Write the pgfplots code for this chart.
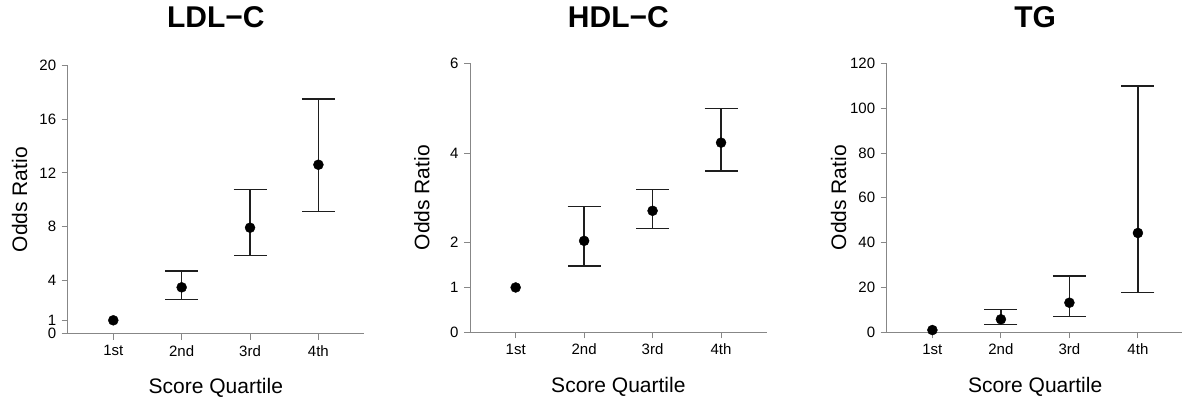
\documentclass[border=0pt]{standalone}
\usepackage{fontspec}
\setmainfont{Liberation Sans}
\usepackage{pgfplots}
\pgfplotsset{compat=1.18}
\definecolor{axgray}{RGB}{135,135,135}
\definecolor{errc}{RGB}{30,30,30}
\pgfplotsset{
  orstyle/.style={
    scale only axis,
    axis x line*=bottom, axis y line*=left,
    axis line style={draw=axgray, line width=0.9pt},
    tick style={draw=axgray, line width=0.9pt},
    tick align=outside, major tick length=6pt,
    xmin=0.333, xmax=4.667, ymin=0,
    xtick={1,2,3,4}, xticklabels={1st,2nd,3rd,4th},
    tick label style={font=\fontsize{15}{18}\selectfont, text=black},
    xticklabel style={font=\fontsize{15}{18}\selectfont, yshift=-2pt},
    yticklabel style={font=\fontsize{15}{18}\selectfont, xshift=-2pt},
    /pgf/number format/assume math mode=true,
    xlabel={Score Quartile}, ylabel={Odds Ratio},
    every axis x label/.style={at={(axis description cs:0.5,-0.222)}, anchor=base, font=\fontsize{21}{24}\selectfont},
    every axis y label/.style={at={(axis description cs:-0.1366,0.5)}, anchor=base, rotate=90, font=\fontsize{21}{24}\selectfont},
    title style={font=\bfseries\fontsize{30}{32}\selectfont, anchor=center},
    clip=false,
  },
  cistyle/.style={only marks, mark=*, mark size=5pt, black,
    error bars/.cd, y dir=both, y explicit,
    error bar style={line width=1.4pt, color=errc},
    error mark options={rotate=90, mark size=16.5pt, line width=1.4pt, color=errc}},
  refstyle/.style={only marks, mark=*, mark size=5pt, black},
}
\begin{document}
\begin{tikzpicture}
\useasboundingbox (0,0) rectangle (1182pt,404pt);
% LDL-C
\begin{axis}[orstyle, at={(67.7pt,70.3pt)}, anchor=south west,
  width=296.3pt, height=268pt, ymax=20, ytick={0,1,4,8,12,16,20},
  title={LDL−C}, title style={at={(axis description cs:0.5,1.16)}}]
\addplot[refstyle] coordinates {(1,1)};
\addplot[cistyle] coordinates {
  (2,3.46) += (0,1.22) -= (0,0.89)
  (3,7.91) += (0,2.84) -= (0,2.09)
  (4,12.61) += (0,4.90) -= (0,3.51)
};
\end{axis}
% HDL-C
\begin{axis}[orstyle, at={(470pt,71.7pt)}, anchor=south west,
  width=296.7pt, height=269pt, ymax=6, ytick={0,1,2,4,6},
  title={HDL−C}, title style={at={(axis description cs:0.5,1.151)}}]
\addplot[refstyle] coordinates {(1,1)};
\addplot[cistyle] coordinates {
  (2,2.04) += (0,0.76) -= (0,0.56)
  (3,2.71) += (0,0.47) -= (0,0.40)
  (4,4.23) += (0,0.76) -= (0,0.63)
};
\end{axis}
% TG
\begin{axis}[orstyle, at={(886.7pt,71.7pt)}, anchor=south west,
  width=296.9pt, height=269pt, ymax=120, ytick={0,20,40,60,80,100,120},
  title={TG}, title style={at={(axis description cs:0.5,1.151)}}]
\addplot[refstyle] coordinates {(1,1)};
\addplot[cistyle] coordinates {
  (2,5.8) += (0,4.3) -= (0,2.2)
  (3,13.2) += (0,11.9) -= (0,6.1)
  (4,44.3) += (0,65.6) -= (0,26.5)
};
\end{axis}
\end{tikzpicture}
\end{document}
